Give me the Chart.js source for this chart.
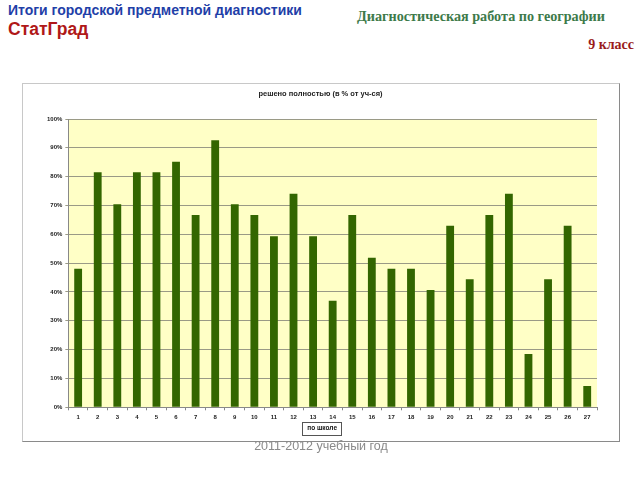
<!DOCTYPE html>
<html>
<head>
<meta charset="utf-8">
<script src="https://cdn.jsdelivr.net/npm/chart.js@4.4.0/dist/chart.umd.min.js"></script>
<style>
    body { margin: 0; width: 640px; height: 480px; background: #fff; position: relative; overflow: hidden; font-family: "Liberation Sans", Arial, sans-serif; }
    .hdr1 { position: absolute; left: 8px; top: 2px; font-size: 14px; font-weight: bold; color: #1f3fa8; }
    .hdr2 { position: absolute; left: 8px; top: 19px; font-size: 17.5px; font-weight: bold; color: #b01818; }
    .hdr3 { position: absolute; left: 357px; top: 8px; font-family: "Liberation Serif", serif; font-size: 14.2px; font-weight: bold; color: #3d7a4a; }
    .hdr4 { position: absolute; right: 6px; top: 37px; font-family: "Liberation Serif", serif; font-size: 14px; font-weight: bold; color: #9a1a1a; }
    .frame { position: absolute; left: 22px; top: 83px; width: 596px; height: 357px; border: 1px solid #c8c8c8; border-right-color: #8a8a8a; border-bottom-color: #8a8a8a; background: #fff; }
    .footer { position: absolute; left: 0; width: 642px; top: 439px; text-align: center; font-size: 12.5px; color: #8a8a8a; }
</style>
</head>
<body>
<div class="hdr1">Итоги городской предметной диагностики</div>
<div class="hdr2">СтатГрад</div>
<div class="hdr3">Диагностическая работа по географии</div>
<div class="hdr4">9 класс</div>
<div class="frame"><canvas id="solvedChart" width="596" height="357"></canvas></div>
<div class="footer">2011-2012 учебный год</div>
<script>
const tasks = ['1', '2', '3', '4', '5', '6', '7', '8', '9', '10', '11', '12', '13', '14',
    '15', '16', '17', '18', '19', '20', '21', '22', '23', '24', '25', '26', '27'];
const schoolValues = [48.1, 81.5, 70.4, 81.5, 81.5, 85.2, 66.7, 92.6, 70.4, 66.7, 59.3, 74.1, 59.3, 37.0,
    66.7, 51.9, 48.1, 48.1, 40.7, 63.0, 44.4, 66.7, 74.1, 18.5, 44.4, 63.0, 7.4];
const seriesName = 'по школе';
const chartTitle = 'решено полностью (в % от уч-ся)';

// yellow plot background + box round the legend item
const decor = {
    id: 'decor',
    beforeDraw(chart) {
        const a = chart.chartArea;
        const ctx = chart.ctx;
        ctx.save();
        ctx.fillStyle = '#ffffc6';
        ctx.fillRect(a.left, a.top, a.right - a.left, a.bottom - a.top);
        ctx.restore();
    },
    afterDraw(chart) {
        const hb = chart.legend.legendHitBoxes[0];
        if (!hb) return;
        const ctx = chart.ctx;
        ctx.save();
        ctx.strokeStyle = '#555';
        ctx.lineWidth = 1;
        const x = Math.round(hb.left - 2) + 0.5;
        const y = Math.round(hb.top - 3) + 0.5;
        ctx.strokeRect(x, y, Math.round(hb.width + 6), Math.round(hb.height + 6));
        ctx.restore();
    }
};

document.addEventListener('DOMContentLoaded', function() {
    const ctx = document.getElementById('solvedChart').getContext('2d');
    new Chart(ctx, {
        type: 'bar',
        data: {
            labels: tasks,
            datasets: [{
                label: seriesName,
                data: schoolValues,
                backgroundColor: '#336600',
                borderWidth: 0,
                barPercentage: 0.4,
                categoryPercentage: 1
            }]
        },
        options: {
            responsive: false,
            animation: false,
            layout: { padding: { left: 21, right: 22, top: 1, bottom: 0 } },
            scales: {
                y: {
                    min: 0,
                    max: 100,
                    ticks: {
                        stepSize: 10,
                        color: '#222',
                        font: { size: 6, weight: 'bold', family: 'Liberation Sans' },
                        padding: 3,
                        callback: v => v + '%'
                    },
                    grid: { color: '#9a9a86', lineWidth: 1, tickLength: 3 },
                    border: { color: '#888' }
                },
                x: {
                    ticks: {
                        color: '#222',
                        font: { size: 6, weight: 'bold', family: 'Liberation Sans' },
                        padding: 3,
                        maxRotation: 0
                    },
                    grid: { drawOnChartArea: false, color: '#888', tickLength: 3, offset: true },
                    border: { color: '#888' }
                }
            },
            plugins: {
                title: {
                    display: true,
                    text: chartTitle,
                    color: '#222',
                    font: { size: 7.5, weight: 'bold', family: 'Liberation Sans' },
                    padding: { top: 4, bottom: 21 }
                },
                legend: {
                    position: 'bottom',
                    labels: {
                        boxWidth: 0,
                        boxHeight: 0,
                        padding: 1,
                        color: '#111',
                        font: { size: 6.5, weight: 'bold', family: 'Liberation Sans' }
                    }
                },
                tooltip: { enabled: false }
            }
        },
        plugins: [decor]
    });
});
</script>
</body>
</html>
